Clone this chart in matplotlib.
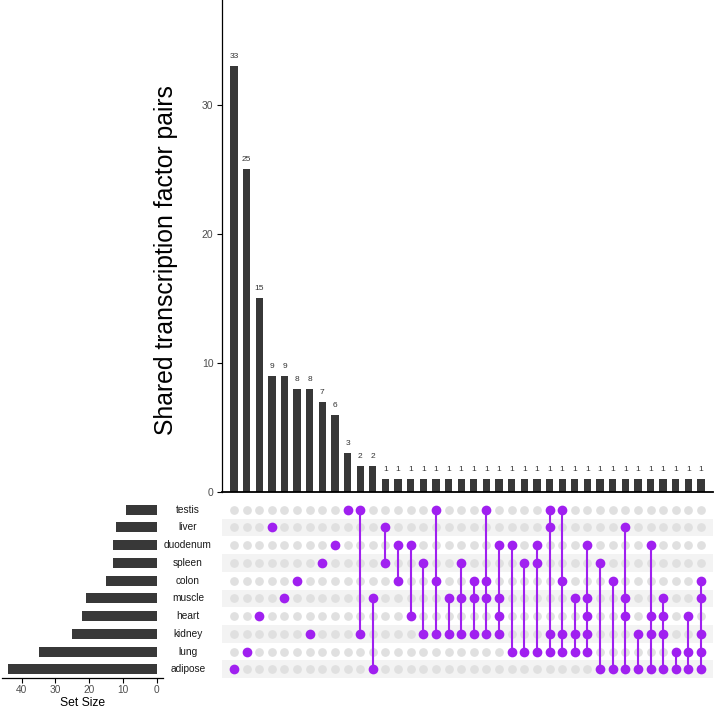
import matplotlib
matplotlib.use("Agg")
import matplotlib.pyplot as plt
import numpy as np

plt.rcParams['font.family'] = ['Liberation Sans', 'DejaVu Sans']

sets = ["testis", "liver", "duodenum", "spleen", "colon", "muscle", "heart", "kidney", "lung", "adipose"]
set_sizes = [9, 12, 13, 13, 15, 21, 22, 25, 35, 44]

intersections = [
    ["adipose"], ["lung"], ["heart"], ["liver"], ["muscle"], ["colon"], ["kidney"],
    ["spleen"], ["duodenum"], ["testis"],
    ["testis", "kidney"], ["muscle", "adipose"], ["liver", "spleen"],
    ["duodenum", "colon"], ["duodenum", "heart"], ["spleen", "kidney"],
    ["testis", "colon", "kidney"], ["muscle", "kidney"], ["spleen", "muscle", "kidney"],
    ["colon", "muscle", "kidney"], ["testis", "colon", "muscle", "kidney"],
    ["duodenum", "muscle", "heart", "kidney"], ["duodenum", "lung"], ["spleen", "lung"],
    ["duodenum", "spleen", "lung"], ["testis", "liver", "kidney", "lung"],
    ["testis", "colon", "kidney", "lung"], ["muscle", "kidney", "lung"],
    ["duodenum", "muscle", "heart", "kidney", "lung"], ["spleen", "adipose"],
    ["colon", "adipose"], ["liver", "muscle", "heart", "adipose"], ["kidney", "adipose"],
    ["duodenum", "heart", "kidney", "adipose"], ["muscle", "heart", "kidney", "adipose"],
    ["lung", "adipose"], ["heart", "lung", "adipose"],
    ["colon", "muscle", "kidney", "lung", "adipose"],
]
counts = [33, 25, 15, 9, 9, 8, 8, 7, 6, 3, 2, 2] + [1] * 26

W, H = 714, 710
fig = plt.figure(figsize=(W / 100, H / 100), dpi=100)

def ax_px(x0, y0, x1, y1):
    return fig.add_axes([x0 / W, 1 - y1 / H, (x1 - x0) / W, (y1 - y0) / H])

ncol = len(counts)
xlim = (-0.95, ncol - 0.05)
bar_color = "#383838"
purple = "#A020F0"
tick_gray = "#4D4D4D"

# Top intersection bars
ax_bar = ax_px(222, 0, 713, 492)
x = np.arange(ncol)
ax_bar.bar(x, counts, width=0.58, color=bar_color)
for xi, c in zip(x, counts):
    ax_bar.text(xi, c + 0.45, str(c), ha="center", va="bottom", fontsize=6, color="#333333")
ax_bar.set_xlim(*xlim)
ax_bar.set_ylim(0, 38.1)
ax_bar.set_yticks([0, 10, 20, 30])
ax_bar.set_xticks([])
for s in ["top", "right"]:
    ax_bar.spines[s].set_visible(False)
ax_bar.spines["left"].set_linewidth(0.9)
ax_bar.spines["bottom"].set_linewidth(1.3)
ax_bar.tick_params(axis="y", length=3.6, width=0.8, labelsize=7.5, labelcolor=tick_gray, pad=2.5)
fig.text(166 / W, 1 - 260 / H, "Shared transcription factor pairs", rotation=90,
         ha="center", va="center", fontsize=17.8, color="black")

# Matrix
ax_mat = ax_px(222, 500.8, 713, 678.2)
nrow = len(sets)
ax_mat.set_xlim(*xlim)
ax_mat.set_ylim(nrow - 0.5, -0.5)
for r in range(nrow):
    if r % 2 == 1:
        ax_mat.axhspan(r - 0.5, r + 0.5, color="#F3F3F3", zorder=0, lw=0)
for ci in range(ncol):
    for r in range(nrow):
        ax_mat.plot(ci, r, "o", color="#E0E0E0", markersize=6.3, zorder=1, mec="none")
for ci, members in enumerate(intersections):
    rows = sorted(sets.index(m) for m in members)
    if len(rows) > 1:
        ax_mat.plot([ci, ci], [rows[0], rows[-1]], color=purple, lw=1.5, zorder=2)
    ax_mat.plot([ci] * len(rows), rows, "o", color=purple, markersize=7.0, zorder=3, mec="none")
ax_mat.axis("off")

# Set sizes
ax_set = ax_px(1.7, 500.8, 163.3, 678.2)
ax_set.patch.set_alpha(0)
ax_set.barh(np.arange(nrow), set_sizes, height=0.56, color=bar_color)
ax_set.set_ylim(nrow - 0.5, -0.5)
ax_set.set_xlim(45.9, -1.96)
ax_set.set_xticks([40, 30, 20, 10, 0])
ax_set.set_yticks([])
for s in ["top", "right", "left"]:
    ax_set.spines[s].set_visible(False)
ax_set.spines["bottom"].set_linewidth(0.9)
ax_set.tick_params(axis="x", length=3.6, width=0.8, labelsize=7.3, labelcolor=tick_gray, pad=1.5)
fig.text(82.5 / W, 1 - 703 / H, "Set Size", ha="center", va="center", fontsize=8.7, color="black")

for r, name in enumerate(sets):
    ax_mat.text(-0.0692, r, name, transform=ax_mat.get_yaxis_transform(),
                ha="center", va="center", fontsize=7.3, color="#1A1A1A")

fig.savefig("out.png", dpi=100)
